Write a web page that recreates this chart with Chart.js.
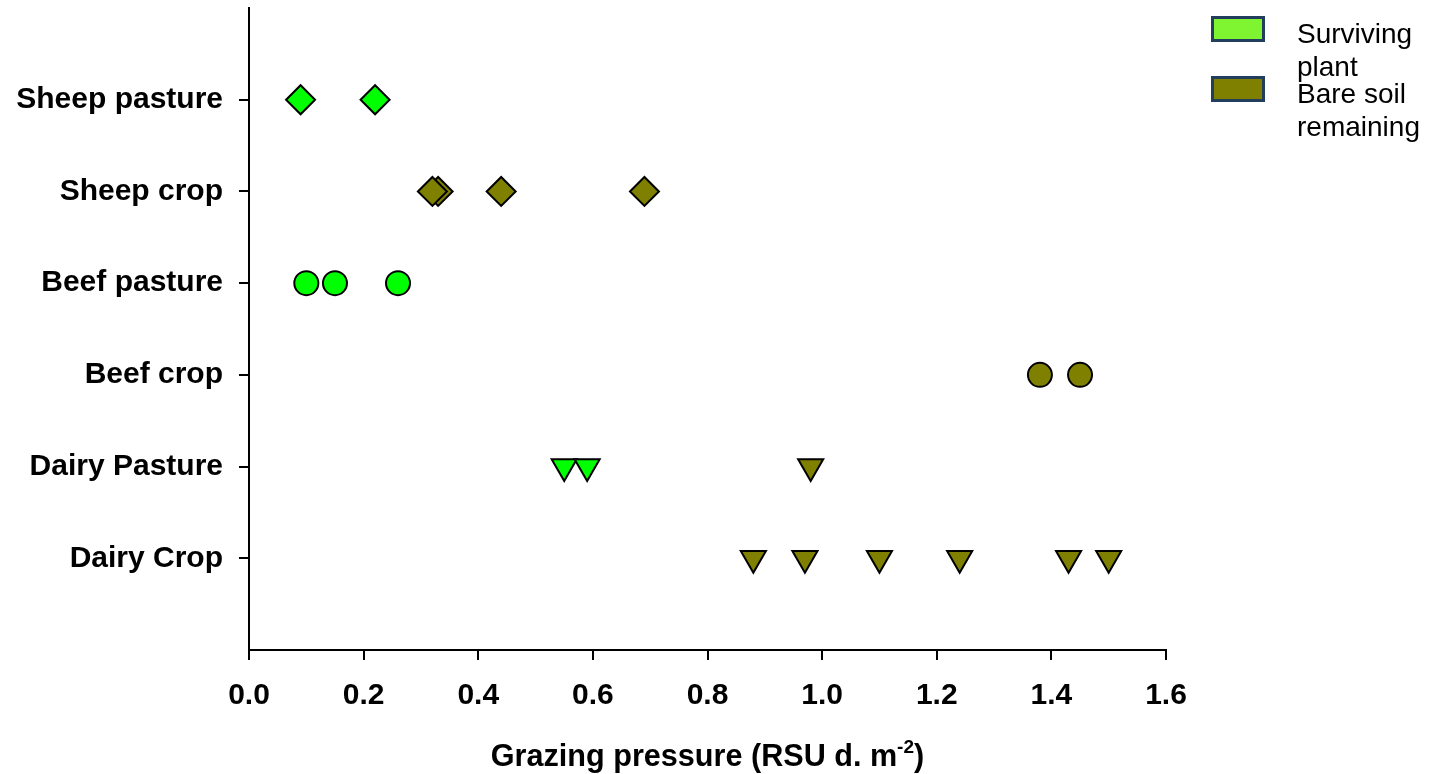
<!DOCTYPE html>
<html>
<head>
<meta charset="utf-8">
<script src="https://cdn.jsdelivr.net/npm/chart.js@4/dist/chart.umd.min.js"></script>
<style>
  html, body { margin: 0; padding: 0; background: #fff; }
  #wrap { position: relative; width: 1435px; height: 774px; }
  #chart { position: absolute; left: 0; top: 0; }
  .key { position: absolute; left: 1211px; width: 48px; height: 20px; border: 3px solid #233e5c; }
  .keyText { position: absolute; left: 1297px; font: 28px "Liberation Sans", Arial, sans-serif; line-height: 33px; color: #000; }
</style>
</head>
<body>
<div id="wrap">
  <canvas id="chart" width="1435" height="774"></canvas>
  <div class="key" style="top:16px;background:#7ff532"></div>
  <div class="keyText" style="top:17px">Surviving<br>plant</div>
  <div class="key" style="top:76px;background:#808000"></div>
  <div class="keyText" style="top:77px">Bare soil<br>remaining</div>
</div>
<script>
// rows, top to bottom
const categories = ['Sheep pasture', 'Sheep crop', 'Beef pasture', 'Beef crop', 'Dairy Pasture', 'Dairy Crop'];
const xTicks = [0, 0.2, 0.4, 0.6, 0.8, 1.0, 1.2, 1.4, 1.6];

// grazing pressure values
const sheepPastureSurviving = [0.09, 0.22];
const sheepCropBare = [0.33, 0.32, 0.44, 0.69];
const beefPastureSurviving = [0.10, 0.15, 0.26];
const beefCropBare = [1.38, 1.45];
const dairyPastureSurviving = [0.55, 0.59];
const dairyPastureBare = [0.98];
const dairyCropBare = [0.88, 0.97, 1.10, 1.24, 1.43, 1.50];

const GREEN = '#00ff00';
const OLIVE = '#808000';

function row(name, values) {
    const y = categories.indexOf(name) + 1;
    return values.map(v => ({ x: v, y: y }));
}

function series(label, name, values, color, shape) {
    const tri = shape === 'triangle';
    return {
        label: label,
        data: row(name, values),
        pointStyle: shape,
        rotation: tri ? 180 : 0,
        pointRadius: shape === 'circle' ? 12 : 14.5,
        backgroundColor: color,
        borderColor: '#000',
        borderWidth: 2,
        clip: false
    };
}

// x-axis title with a superscript exponent
const axisTitle = {
    id: 'axisTitle',
    afterDraw(chart) {
        const ctx = chart.ctx;
        const main = 'Grazing pressure (RSU d. m';
        const sup = '-2';
        const tail = ')';
        const big = 'bold 30.6px "Liberation Sans", Arial, sans-serif';
        const small = 'bold 19px "Liberation Sans", Arial, sans-serif';
        ctx.save();
        ctx.fillStyle = '#000';
        ctx.textBaseline = 'alphabetic';
        ctx.textAlign = 'left';
        ctx.font = big;
        const w1 = ctx.measureText(main).width;
        const w3 = ctx.measureText(tail).width;
        ctx.font = small;
        const w2 = ctx.measureText(sup).width;
        const cx = (chart.chartArea.left + chart.chartArea.right) / 2;
        let x = cx - (w1 + w2 + w3) / 2;
        const base = 766;
        ctx.font = big;
        ctx.fillText(main, x, base);
        x += w1;
        ctx.font = small;
        ctx.fillText(sup, x, base - 13);
        x += w2;
        ctx.font = big;
        ctx.fillText(tail, x, base);
        ctx.restore();
    }
};

const tickFont = { family: '"Liberation Sans", Arial, sans-serif', size: 30, weight: 'bold' };

new Chart(document.getElementById('chart'), {
    type: 'scatter',
    data: {
        datasets: [
            series('Surviving plant', 'Sheep pasture', sheepPastureSurviving, GREEN, 'rectRot'),
            series('Bare soil remaining', 'Sheep crop', sheepCropBare, OLIVE, 'rectRot'),
            series('Surviving plant', 'Beef pasture', beefPastureSurviving, GREEN, 'circle'),
            series('Bare soil remaining', 'Beef crop', beefCropBare, OLIVE, 'circle'),
            series('Surviving plant', 'Dairy Pasture', dairyPastureSurviving, GREEN, 'triangle'),
            series('Bare soil remaining', 'Dairy Pasture', dairyPastureBare, OLIVE, 'triangle'),
            series('Bare soil remaining', 'Dairy Crop', dairyCropBare, OLIVE, 'triangle')
        ]
    },
    options: {
        responsive: false,
        animation: false,
        events: [],
        layout: { autoPadding: false, padding: { top: 8, right: 269, left: 0, bottom: 0 } },
        plugins: { legend: { display: false }, tooltip: { enabled: false } },
        scales: {
            x: {
                type: 'linear',
                min: 0,
                max: 1.6,
                afterBuildTicks: axis => { axis.ticks = xTicks.map(v => ({ value: v })); },
                afterFit: scale => { scale.height = 124; scale.paddingLeft = 0; scale.paddingRight = 0; },
                border: { display: true, color: '#000', width: 2 },
                grid: { drawOnChartArea: false, drawTicks: true, tickLength: 10, color: '#000', lineWidth: 2 },
                ticks: {
                    color: '#000',
                    font: tickFont,
                    padding: 18,
                    maxRotation: 0,
                    callback: v => Number(v).toFixed(1)
                }
            },
            y: {
                type: 'linear',
                reverse: true,
                min: 0,
                max: 7,
                afterBuildTicks: axis => { axis.ticks = categories.map((c, i) => ({ value: i + 1 })); },
                afterFit: scale => { scale.width = 249; scale.paddingTop = 0; scale.paddingBottom = 0; },
                border: { display: true, color: '#000', width: 2 },
                grid: { drawOnChartArea: false, drawTicks: true, tickLength: 10, color: '#000', lineWidth: 2 },
                ticks: {
                    color: '#000',
                    font: tickFont,
                    padding: 16,
                    callback: v => categories[v - 1] || ''
                }
            }
        }
    },
    plugins: [axisTitle]
});
</script>
</body>
</html>
